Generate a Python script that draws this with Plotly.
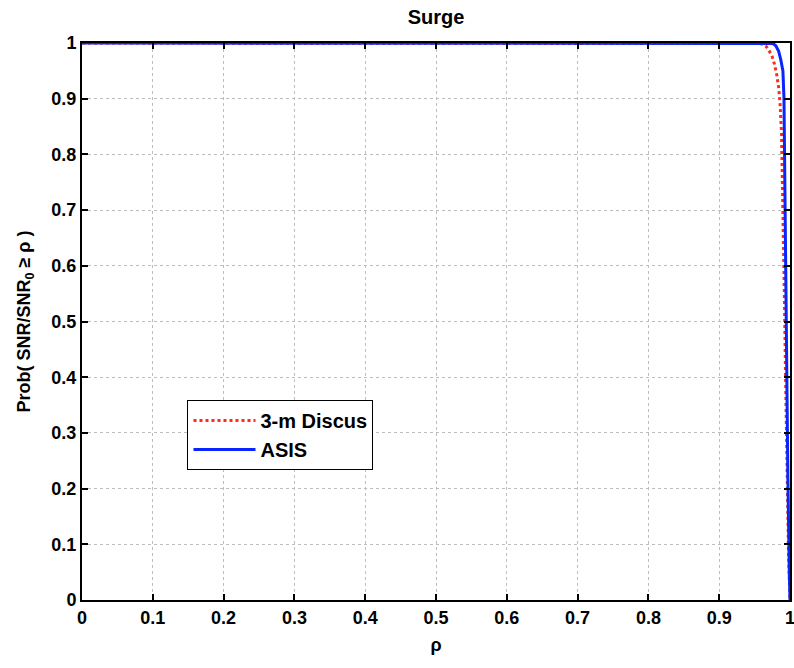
import plotly.graph_objects as go

# 3-m Discus
rho_discus = [0.0, 0.90, 0.950, 0.958, 0.963, 0.967, 0.971, 0.975, 0.978, 0.981, 0.984, 0.986, 0.988, 0.990, 0.992, 0.994, 0.996, 0.998, 1.0]
prob_discus = [1.0, 1.0, 1.0, 0.999, 0.997, 0.993, 0.985, 0.975, 0.962, 0.945, 0.92, 0.89, 0.84, 0.72, 0.55, 0.38, 0.22, 0.08, 0.0]

# ASIS
rho_asis = [0.0, 0.90, 0.970, 0.976, 0.980, 0.984, 0.987, 0.990, 0.9915, 0.993, 0.995, 0.997, 0.999, 1.0]
prob_asis = [1.0, 1.0, 1.0, 0.999, 0.995, 0.985, 0.97, 0.95, 0.90, 0.70, 0.45, 0.22, 0.05, 0.0]

x_ticks = [0, 0.1, 0.2, 0.3, 0.4, 0.5, 0.6, 0.7, 0.8, 0.9, 1]
x_ticklabels = ["0", "0.1", "0.2", "0.3", "0.4", "0.5", "0.6", "0.7", "0.8", "0.9", "1"]
y_ticks = [0, 0.1, 0.2, 0.3, 0.4, 0.5, 0.6, 0.7, 0.8, 0.9, 1]
y_ticklabels = ["0", "0.1", "0.2", "0.3", "0.4", "0.5", "0.6", "0.7", "0.8", "0.9", "1"]

FONT = "Liberation Sans, Arial, sans-serif"

fig = go.Figure()
fig.add_trace(go.Scatter(x=rho_discus, y=prob_discus, mode="lines", name="<b>3-m Discus</b>",
                         line=dict(color="#ff2a1a", width=3, dash="dot")))
fig.add_trace(go.Scatter(x=rho_asis, y=prob_asis, mode="lines", name="<b>ASIS</b>",
                         line=dict(color="#0a24ff", width=3)))

axis_common = dict(
    showline=True, linecolor="black", linewidth=2, mirror="allticks",
    ticks="inside", ticklen=6, tickwidth=2, tickcolor="black",
    showgrid=True, gridcolor="#bdbdbd", gridwidth=1, griddash="dot",
    zeroline=False,
    tickfont=dict(family=FONT, size=18, color="black", weight="bold"),
)

fig.update_xaxes(range=[0, 1], tickvals=x_ticks, ticktext=x_ticklabels,
                 title=dict(text="<b>ρ</b>", font=dict(family=FONT, size=18, color="black"), standoff=12),
                 **axis_common)
fig.update_yaxes(range=[0, 1], tickvals=y_ticks, ticktext=y_ticklabels,
                 title=dict(text="<b>Prob( SNR/SNR<sub>0</sub> ≥ ρ )</b>", font=dict(family=FONT, size=18, color="black"), standoff=16),
                 **axis_common)

# last x tick label sits on the figure edge (partly clipped in the reference)
fig.add_annotation(x=x_ticks[-1], y=0, xref="x", yref="paper", text="<b>" + x_ticklabels[-1] + "</b>",
                   showarrow=False, xanchor="center", yanchor="top", yshift=-6,
                   font=dict(family=FONT, size=18, color="black"))

fig.update_layout(
    width=794, height=668,
    margin=dict(l=82, r=2, t=43, b=68),
    paper_bgcolor="white", plot_bgcolor="white",
    title=dict(text="<b>Surge</b>", x=0.5, xref="paper", xanchor="center", y=0.974, yanchor="middle",
               font=dict(family=FONT, size=20, color="black")),
    legend=dict(x=0.149, y=0.359, xanchor="left", yanchor="top",
                bgcolor="white", bordercolor="black", borderwidth=1,
                font=dict(family=FONT, size=20, color="black"),
                itemwidth=62, tracegroupgap=4),
    showlegend=True,
)

fig.write_html("out.html", config={"displayModeBar": False},
               post_script="document.body.style.margin='0';document.body.style.overflow='hidden';")
